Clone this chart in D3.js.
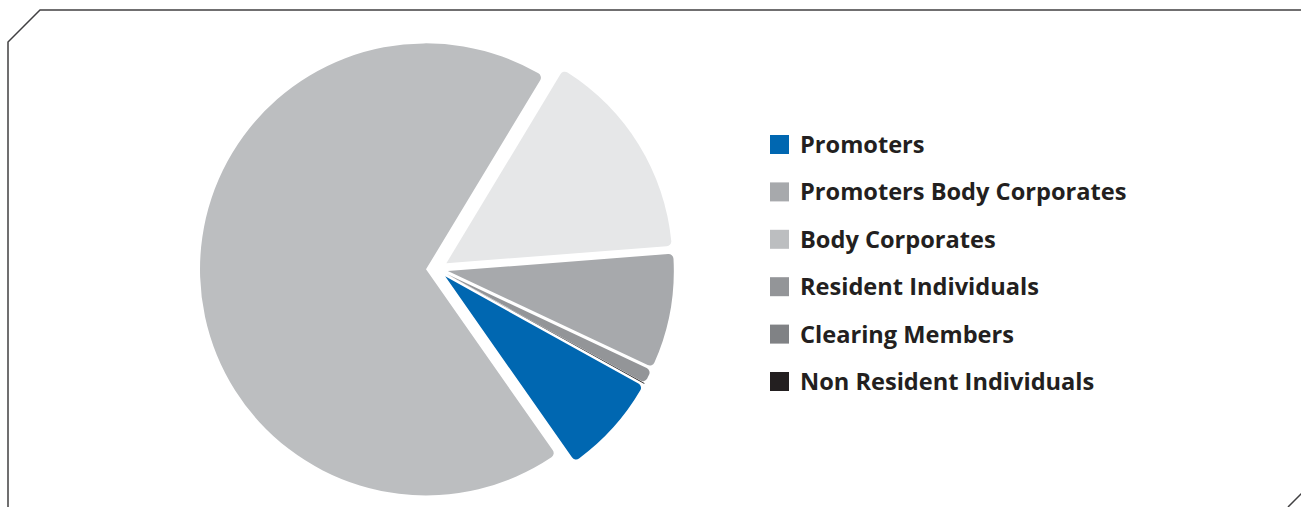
<!DOCTYPE html>
<html>
<head>
<meta charset="utf-8">
<script src="https://cdn.jsdelivr.net/npm/d3@7"></script>
<style>
  body { margin: 0; background: #fff; }
  svg { display: block; }
  .legend text { font-family: "Open Sans", sans-serif; font-weight: 700; font-size: 23.6px; fill: #231f20; }
</style>
</head>
<body>
<svg width="1301" height="507"></svg>
<script>
// Shareholding pattern - pie + legend

var categories = ["Promoters", "Promoters Body Corporates", "Body Corporates",
                  "Resident Individuals", "Clearing Members", "Non Resident Individuals"];
var shares = [7.2, 68.2, 15.1, 8.2, 1.0, 0.05];
var sliceColors = ["#0067b1", "#bcbec0", "#e6e7e8", "#a7a9ac", "#939598", "#231f20"];
var legendColors = ["#0067b1", "#a7a9ac", "#bcbec0", "#939598", "#808285", "#231f20"];

var svg = d3.select("svg"),
    width = +svg.attr("width"),
    height = +svg.attr("height");

// frame with cut corners
svg.append("path")
    .attr("d", "M8,507 L8,42 L40,10 L1301,10 M1288,507 L1302,493")
    .attr("fill", "none")
    .attr("stroke", "#414042")
    .attr("stroke-width", 1.5);

var cx = 437, cy = 269, radius = 226, explode = 11;
var start = 119 * Math.PI / 180;

var pie = d3.pie()
    .sort(null)
    .startAngle(start)
    .endAngle(start + 2 * Math.PI);

var arc = d3.arc()
    .innerRadius(0)
    .outerRadius(radius)
    .cornerRadius(5);

var g = svg.append("g")
    .attr("transform", "translate(" + cx + "," + cy + ")");

// slices pulled out from centre
g.selectAll(".slice")
  .data(pie(shares))
  .enter()
  .append("path")
    .attr("class", "slice")
    .attr("fill", function(d, i) { return sliceColors[i]; })
    .attr("transform", function(d) {
      var a = (d.startAngle + d.endAngle) / 2;
      return "translate(" + (explode * Math.sin(a)) + "," + (-explode * Math.cos(a)) + ")";
    })
    .attr("d", arc);

// legend
var y = d3.scalePoint().domain(categories).range([135, 372]);

var legend = svg.append("g").attr("class", "legend");

var item = legend.selectAll(".item")
  .data(categories)
  .enter()
  .append("g")
    .attr("class", "item")
    .attr("transform", function(d) { return "translate(770," + y(d) + ")"; });

item.append("rect")
    .attr("width", 19)
    .attr("height", 19)
    .attr("fill", function(d, i) { return legendColors[i]; });

item.append("text")
    .attr("x", 30)
    .attr("y", 18)
    .text(function(d) { return d; });
</script>
</body>
</html>
